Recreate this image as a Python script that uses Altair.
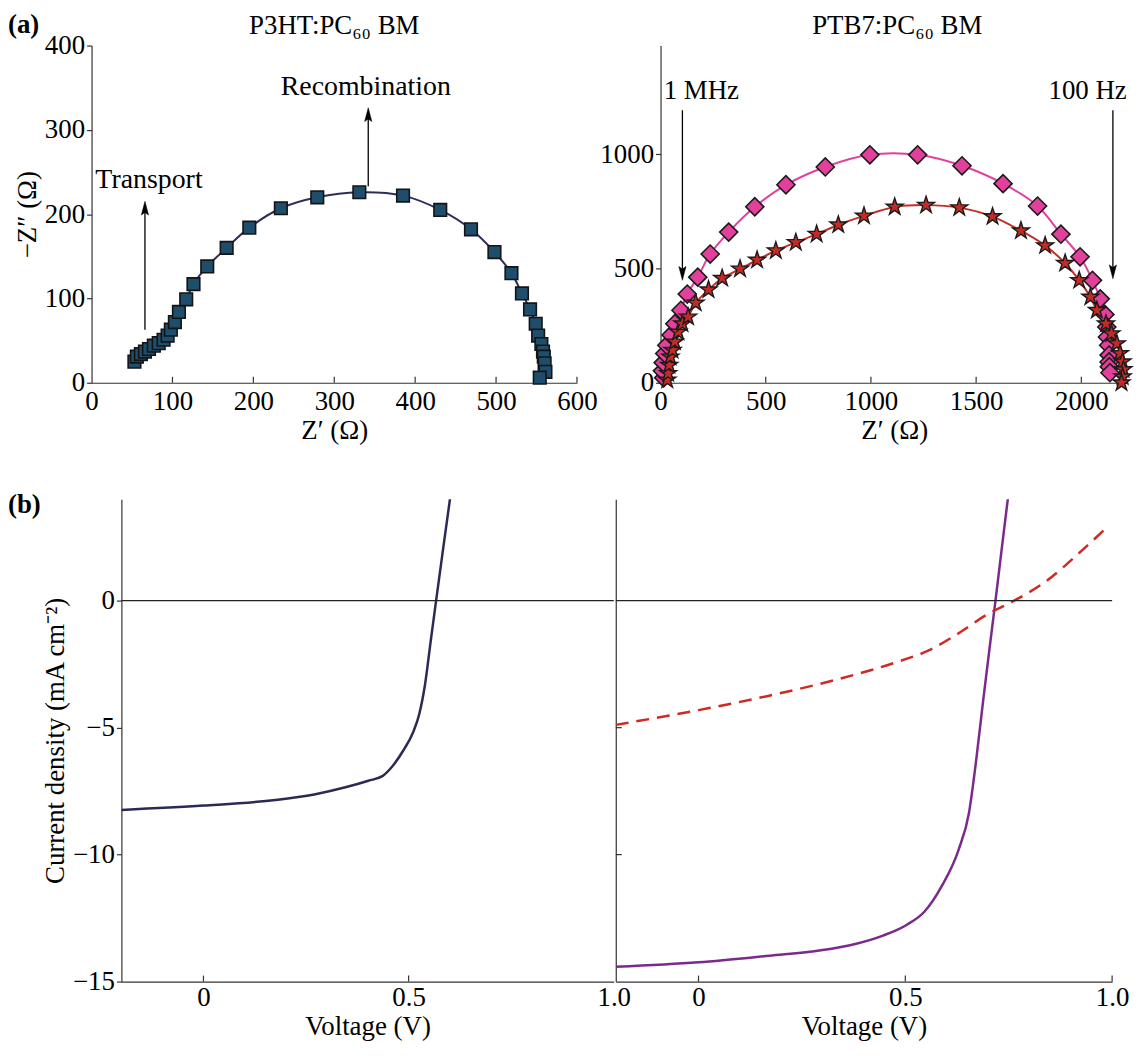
import altair as alt
import pandas as pd

SERIF = "Liberation Serif"

# ---------------- data ----------------
# (a) left: P3HT:PC60BM impedance
P3HT_ZRE = [53, 56, 61, 66, 71, 77, 83, 89, 94, 98, 103, 108, 117, 126, 143, 167, 195, 234,
            279, 331, 385, 431, 469, 498, 519, 532, 542, 549, 552, 556, 558, 559, 560, 561, 554]
P3HT_ZIM = [25, 31, 34, 37, 40, 44, 47, 51, 56, 63, 72, 84, 99, 117, 138, 160, 184, 207,
            220, 226, 222, 205, 182, 155, 130, 106, 87, 70, 56, 46, 37, 31, 23, 13, 6]

# (a) right: PTB7:PC60BM impedance, diamonds and stars
DIA_ZRE = [15, 9, 13, 20, 30, 50, 68, 97, 127, 177, 236, 324, 448, 596, 783, 995, 1222, 1433,
           1628, 1792, 1903, 1994, 2053, 2090, 2112, 2121, 2124, 2130, 2132, 2132, 2133, 2136]
DIA_ZIM = [22, 52, 88, 128, 164, 209, 258, 317, 388, 462, 563, 659, 770, 866, 944, 997, 997, 949,
           871, 773, 650, 551, 448, 367, 299, 244, 200, 164, 121, 91, 70, 44]
STAR_ZRE = [32, 36, 41, 47, 57, 68, 84, 104, 131, 167, 228, 293, 378, 459, 548, 643, 742, 845,
            967, 1113, 1262, 1420, 1578, 1713, 1828, 1923, 1990, 2043, 2074, 2117, 2143, 2169,
            2184, 2196, 2200, 2196, 2191]
STAR_ZIM = [12, 41, 77, 113, 142, 179, 222, 258, 288, 349, 407, 457, 498, 537, 578, 614, 650, 691,
            730, 769, 777, 766, 727, 665, 600, 523, 448, 375, 317, 258, 215, 171,
            128, 92, 58, 26, 0]

# (b) J-V curves
JV1_V = [-0.2, 0.0, 0.175, 0.27, 0.346, 0.402, 0.436, 0.459, 0.487, 0.511, 0.526, 0.54, 0.554, 0.567, 0.584, 0.601]
JV1_J = [-8.24, -8.07, -7.85, -7.63, -7.35, -7.09, -6.91, -6.55, -5.9, -5.18, -4.46, -3.3, -1.57, 0.0, 2.03, 4.03]
JV2_V = [-0.2, 0.0, 0.171, 0.296, 0.379, 0.446, 0.504, 0.546, 0.588, 0.629, 0.654, 0.671, 0.6875, 0.706, 0.718, 0.733, 0.748]
JV2_J = [-14.42, -14.24, -13.98, -13.77, -13.52, -13.19, -12.76, -12.25, -11.24, -9.8, -8.35, -6.33, -4.03, -1.57, 0.0, 2.03, 4.03]
JV3_V = [-0.2, 0.0, 0.171, 0.338, 0.488, 0.554, 0.629, 0.696, 0.763, 0.838, 0.921, 0.988]
JV3_J = [-4.89, -4.31, -3.74, -3.09, -2.37, -1.98, -1.28, -0.56, 0.0, 0.74, 1.89, 2.9]

# tick values
TL_X = [0, 100, 200, 300, 400, 500, 600]
TL_Y = [0, 100, 200, 300, 400]
TR_X = [0, 500, 1000, 1500, 2000]
TR_Y = [0, 500, 1000]
B_X = [0, 0.5, 1.0]
B_Y = [0, -5, -10, -15]

# annotations
TRANSPORT = {"x": 66, "y0": 63, "y1": 205, "tx": 71, "ty": 241, "text": "Transport", "fs": 28}
RECOMB = {"x": 342, "y0": 233, "y1": 316, "tx": 339, "ty": 351, "text": "Recombination", "fs": 28}
MHZ = {"x": 104, "y0": 1192, "y1": 486, "tx": 194, "ty": 1277, "text": "1 MHz", "fs": 27}
HZ = {"x": 2150, "y0": 1192, "y1": 493, "tx": 2030, "ty": 1277, "text": "100 Hz", "fs": 27}

STAR = ("M0,-1L0.2245,-0.309L0.951,-0.309L0.363,0.118L0.588,0.809L0,0.382"
        "L-0.588,0.809L-0.363,0.118L-0.951,-0.309L-0.2245,-0.309Z")
ARROW = "M0,-1L0.42,0.6L0,0.3L-0.42,0.6Z"

AXC = "#333333"
FS = 27

STYLE = dict(labelFont=SERIF, labelFontSize=FS, labelColor="black", titleFont=SERIF,
             titleFontSize=FS, titleFontWeight="normal", titleColor="black", domainColor=AXC,
             domainWidth=1.2, tickColor=AXC, tickWidth=1.2, grid=False, labelFlush=False,
             labelOverlap=False)


def ax_x(values, label_expr=None, fmt=None, label_pad=6, title_pad=3):
    kw = dict(STYLE, values=values, ticks=False, labelPadding=label_pad, titlePadding=title_pad)
    if label_expr:
        kw["labelExpr"] = label_expr
    if fmt:
        kw["format"] = fmt
    return alt.Axis(**kw)


def ax_y(values, labels=True, fmt=None):
    kw = dict(STYLE, values=values, ticks=labels, tickSize=5, labelPadding=2, titlePadding=3,
              labels=labels)
    if fmt:
        kw["format"] = fmt
    return alt.Axis(**kw)


class Panel:
    """Holds a panel's scales and axes so every layer uses identical definitions."""

    def __init__(self, xdom, ydom, xaxis, yaxis, xtitle, ytitle):
        self.xs = alt.Scale(domain=xdom, nice=False, zero=False)
        self.ys = alt.Scale(domain=ydom, nice=False, zero=False)
        self.xa, self.ya, self.xt, self.yt = xaxis, yaxis, xtitle, ytitle

    def X(self, f):
        return alt.X(f, scale=self.xs, axis=self.xa, title=self.xt)

    def Y(self, f):
        return alt.Y(f, scale=self.ys, axis=self.ya, title=self.yt)


def x_ticks_in(p, xvals, h, L=6):
    return alt.Chart(pd.DataFrame({"tv": xvals})).mark_rule(color=AXC, strokeWidth=1.2).encode(
        x=p.X("tv:Q"), y=alt.value(h), y2=alt.value(h - L))


def y_ticks_in(p, yvals, L=6):
    return alt.Chart(pd.DataFrame({"tu": yvals})).mark_rule(color=AXC, strokeWidth=1.2).encode(
        y=p.Y("tu:Q"), x=alt.value(0), x2=alt.value(L))


def arrow(p, a, down=False):
    d = pd.DataFrame({"ax": [a["x"]], "ay0": [a["y0"]], "ay1": [a["y1"]],
                      "tx": [a["tx"]], "ty": [a["ty"]], "t": [a["text"]]})
    line = alt.Chart(d).mark_rule(color="black", strokeWidth=1.3).encode(
        x=p.X("ax:Q"), y=p.Y("ay0:Q"), y2="ay1:Q")
    head = alt.Chart(d).mark_point(shape=ARROW, filled=True, fill="black", stroke="black",
                                   strokeWidth=0.5, size=300, opacity=1,
                                   angle=180 if down else 0).encode(
        x=p.X("ax:Q"), y=p.Y("ay1:Q"))
    txt = alt.Chart(d).mark_text(font=SERIF, fontSize=a["fs"], color="black", align="center",
                                 baseline="middle").encode(
        x=p.X("tx:Q"), y=p.Y("ty:Q"), text="t:N")
    return [line, head, txt]


def label_text(text, x, y, size=27, weight="normal", align="center", baseline="middle"):
    return alt.Chart(pd.DataFrame({"t": [text]})).mark_text(
        font=SERIF, fontSize=size, fontWeight=weight, color="black", align=align,
        baseline=baseline).encode(text="t:N", x=alt.value(x), y=alt.value(y))


# ---------------- (a) left ----------------
W_TL, H_T = 488, 339
ptl = Panel([0, 600], [0, 400], ax_x(TL_X), ax_y(TL_Y), "Z′ (Ω)", "−Z″ (Ω)")
df_tl = pd.DataFrame({"zr": P3HT_ZRE, "zi": P3HT_ZIM, "i": list(range(len(P3HT_ZRE)))})

tl_line = alt.Chart(df_tl).mark_line(color="#2d2d5a", strokeWidth=2,
                                      interpolate="catmull-rom").encode(
    x=ptl.X("zr:Q"), y=ptl.Y("zi:Q"), order="i:Q")
tl_pts = alt.Chart(df_tl).mark_point(shape="square", filled=True, fill="#1f4d6c", stroke="#141414",
                                     strokeWidth=1.6, size=160, opacity=1).encode(
    x=ptl.X("zr:Q"), y=ptl.Y("zi:Q"))

tl = alt.layer(
    tl_line, tl_pts,
    x_ticks_in(ptl, TL_X[1:], H_T),
    *arrow(ptl, TRANSPORT), *arrow(ptl, RECOMB),
    label_text("P3HT:PC₆₀ BM", W_TL / 2, -20),
    label_text("(a)", -84, -21, size=27, weight="bold", align="left", baseline="middle"),
).properties(width=W_TL, height=H_T)

# ---------------- (a) right ----------------
W_TR = 470
ptr = Panel([0, 2222], [0, 1475], ax_x(TR_X, fmt="d"), ax_y(TR_Y, fmt="d"), "Z′ (Ω)", None)
df_d = pd.DataFrame({"dr": DIA_ZRE, "di": DIA_ZIM, "i": list(range(len(DIA_ZRE)))})
df_s = pd.DataFrame({"sr": STAR_ZRE, "si": STAR_ZIM, "i": list(range(len(STAR_ZRE)))})

tr_dline = alt.Chart(df_d).mark_line(color="#e0409c", strokeWidth=2,
                                      interpolate="catmull-rom").encode(
    x=ptr.X("dr:Q"), y=ptr.Y("di:Q"), order="i:Q")
tr_sline = alt.Chart(df_s).mark_line(color="#c0302a", strokeWidth=2,
                                      interpolate="catmull-rom").encode(
    x=ptr.X("sr:Q"), y=ptr.Y("si:Q"), order="i:Q")
tr_dpts = alt.Chart(df_d).mark_point(shape="diamond", filled=True, fill="#e2409b", stroke="#1a1a1a",
                                     strokeWidth=1.6, size=330, opacity=1).encode(
    x=ptr.X("dr:Q"), y=ptr.Y("di:Q"))
tr_spts = alt.Chart(df_s).mark_point(shape=STAR, filled=True, fill="#c42a26", stroke="#1a1a1a",
                                     strokeWidth=1.4, size=320, opacity=1).encode(
    x=ptr.X("sr:Q"), y=ptr.Y("si:Q"))

tr = alt.layer(
    tr_dline, tr_sline, tr_dpts, tr_spts,
    x_ticks_in(ptr, TR_X[1:], H_T),
    *arrow(ptr, MHZ, down=True), *arrow(ptr, HZ, down=True),
    label_text("PTB7:PC₆₀ BM", 238, -20),
).properties(width=W_TR, height=H_T)

# ---------------- (b) ----------------
W_BL, W_BR, H_B = 495, 499, 485
LBL = "datum.value == 0 ? '0' : format(datum.value, '.1f')"
pbl = Panel([-0.2, 1.0], [-15, 4], ax_x(B_X, label_expr=LBL, label_pad=3, title_pad=3),
            ax_y(B_Y), "Voltage (V)", "Current density (mA cm⁻²)")
pbr = Panel([-0.2, 1.0], [-15, 4], ax_x(B_X, label_expr=LBL, label_pad=3, title_pad=3),
            ax_y(B_Y, labels=False), "Voltage (V)", None)

zero_df = pd.DataFrame({"z": [0]})


def zero_rule(p):
    return alt.Chart(zero_df).mark_rule(color="#222222", strokeWidth=1.2).encode(y=p.Y("z:Q"))


df1 = pd.DataFrame({"v1": JV1_V, "j1": JV1_J})
bl_line = alt.Chart(df1).mark_line(color="#2a2a55", strokeWidth=2.5, interpolate="monotone",
                                   clip=True).encode(x=pbl.X("v1:Q"), y=pbl.Y("j1:Q"))
bl = alt.layer(
    bl_line, zero_rule(pbl),
    x_ticks_in(pbl, B_X[:2], H_B),
    label_text("(b)", -114, 6, size=27, weight="bold", align="left", baseline="middle"),
).properties(width=W_BL, height=H_B)

df2 = pd.DataFrame({"v2": JV2_V, "j2": JV2_J})
df3 = pd.DataFrame({"v3": JV3_V, "j3": JV3_J})
br_line = alt.Chart(df2).mark_line(color="#7b2a8c", strokeWidth=2.5, interpolate="monotone",
                                   clip=True).encode(x=pbr.X("v2:Q"), y=pbr.Y("j2:Q"))
br_dash = alt.Chart(df3).mark_line(color="#cc2a22", strokeWidth=2.5, strokeDash=[13, 8],
                                   interpolate="monotone", clip=True).encode(
    x=pbr.X("v3:Q"), y=pbr.Y("j3:Q"))
br = alt.layer(
    br_line, br_dash, zero_rule(pbr),
    x_ticks_in(pbr, B_X, H_B), y_ticks_in(pbr, B_Y[1:3]),
).properties(width=W_BR, height=H_B)

spacer = alt.Chart(pd.DataFrame({"s": [0]})).mark_point(opacity=0).encode(
    x=alt.X("s:Q", axis=None), y=alt.Y("s:Q", axis=None)).properties(width=28, height=20)

top = alt.hconcat(tl, tr, spacing=84, bounds="flush")
bottom = alt.hconcat(spacer, bl, br, spacing=2, bounds="flush")

chart = alt.vconcat(top, bottom, spacing=48).properties(padding=0).configure(
    font=SERIF).configure_axis(**STYLE).configure_text(font=SERIF).configure_view(stroke=None)

chart.save("out.html", embed_options={"renderer": "svg", "actions": False})
